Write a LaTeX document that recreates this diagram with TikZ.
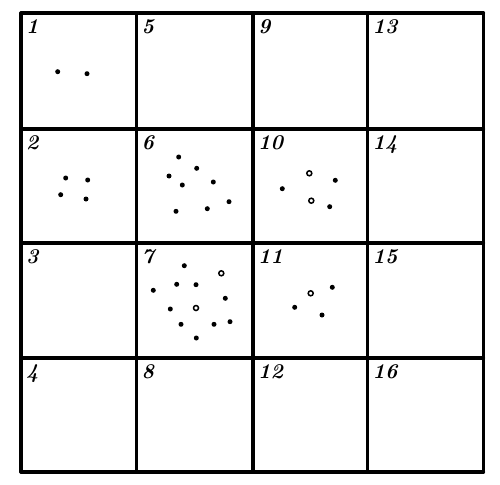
\documentclass[tikz,border=0pt]{standalone}
\usetikzlibrary{positioning}

\begin{document}
\begin{tikzpicture}[
    x=1pt, y=-1pt,
    gridline/.style={line width=3.2pt, line cap=round},
    celllabel/.style={anchor=north west, inner sep=0pt,
                      font=\fontsize{21}{23}\selectfont\bfseries\itshape},
    dot/.style={circle, fill=black, inner sep=0pt, minimum size=5pt},
    ringdot/.style={circle, draw=black, fill=white, line width=1.5pt,
                    inner sep=0pt, minimum size=5pt}
]
\useasboundingbox (0,0) rectangle (500,484);

% Grid
\foreach \x in {21,136.5,253,367.5,483.5}
    \draw[gridline] (\x,13) -- (\x,472);
\foreach \y in {13,129,243,358,472}
    \draw[gridline] (21,\y) -- (483.5,\y);

% Cell numbers
\foreach \c/\x in {0/21,1/136.5,2/253,3/367.5}
  \foreach \r/\y in {0/13,1/129,2/243,3/358} {
    \pgfmathtruncatemacro\n{4*\c+\r+1}
    \node[celllabel] (lab\n) at (\x+5,\y+6) {\n};
  }

% Points
\foreach \p [count=\i] in {
    (57.7,71.7), (87,73.7),                                   % cell 1
    (65.7,178), (87.7,180), (60.7,194.7), (86,199),           % cell 2
    (178.7,157), (196.7,168.3), (169,176), (182.3,185),
    (213.3,182), (229,201.7), (176,211.3), (207.3,208.7),     % cell 6
    (335.3,180.3), (282.3,188.7), (329.7,206.7),              % cell 10
    (184.3,265.7), (176.7,284.3), (196,284.7), (153.3,290.3),
    (225.3,298.3), (170.3,309), (181,324.3), (214,324.3),
    (230,321.7), (196.3,338),                                 % cell 7
    (332.3,287.3), (294.7,307.3), (322,315)}                  % cell 11
    \node[dot] (d\i) at \p {};

\foreach \p [count=\i] in {(309.3,173.3), (311.3,200.7), (221.3,273.3),
                           (196,308), (310.7,293.3)}
    \node[ringdot] (r\i) at \p {};

\end{tikzpicture}
\end{document}
